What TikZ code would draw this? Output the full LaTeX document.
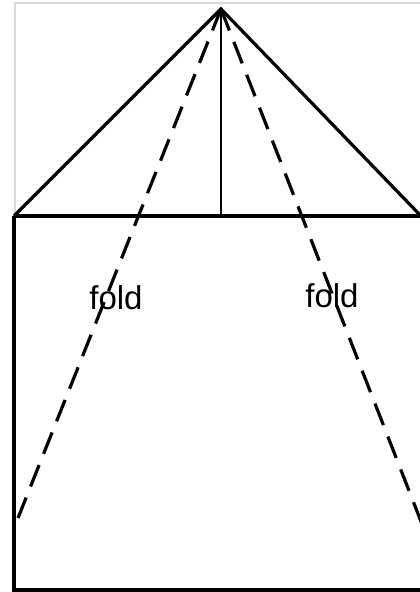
\documentclass[tikz,border=0pt]{standalone}
\usepackage{fontspec}
\setmainfont{Liberation Sans}
\usetikzlibrary{positioning,calc}

\begin{document}
\begin{tikzpicture}[x=1pt,y=-1pt, line width=3.2pt, line join=miter,
  fold/.style={dash pattern=on 23pt off #1},
  lbl/.style={font=\fontsize{33}{35}\selectfont, inner sep=0pt}]
  \useasboundingbox (0,0) rectangle (420,592);
  \coordinate (apex) at (221,9);
  \coordinate (tl) at (14,216);
  \coordinate (tr) at (421,216);
  \coordinate (mid) at (221,216);
  \coordinate (bl) at (14,590);
  \coordinate (br) at (421,590);
  \coordinate (fl) at (18,518);
  \coordinate (fr) at (422,524);
  % light frame
  \draw[line width=1.4pt, black!15] (15,216) -- (15,3) -- (421,3);
  % house outline
  \draw (tl) -- (apex) -- (tr);
  \draw (tl) -- (tr);
  \draw[line width=2.6pt] (apex) -- (mid);
  \draw (tl) -- (bl) -- (br);
  % fold lines
  \draw[fold=12.07pt] (apex) -- (fl);
  \draw[fold=12.3pt] (apex) -- (fr);
  \node[lbl] (foldL) at (116,298) {fold};
  \node[lbl] (foldR) at (332,296) {fold};
\end{tikzpicture}
\end{document}
